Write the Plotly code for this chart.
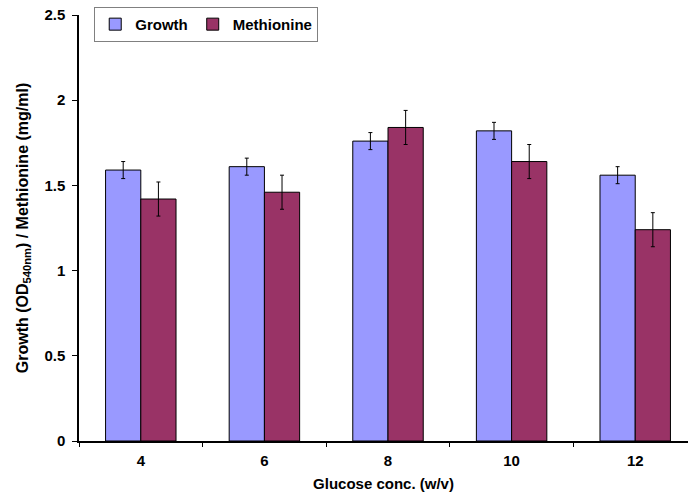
import plotly.graph_objects as go

categories = ["4", "6", "8", "10", "12"]
growth = [1.59, 1.61, 1.76, 1.82, 1.56]
growth_err = [0.05, 0.05, 0.05, 0.05, 0.05]
methionine = [1.42, 1.46, 1.84, 1.64, 1.24]
methionine_err = [0.10, 0.10, 0.10, 0.10, 0.10]

FONT = "Liberation Sans, Arial, sans-serif"

fig = go.Figure()
fig.add_trace(go.Bar(
    name="Growth", x=categories, y=growth,
    marker=dict(color="#9999FF", line=dict(color="black", width=1)),
    error_y=dict(type="data", array=growth_err, color="black", thickness=1, width=2),
))
fig.add_trace(go.Bar(
    name="Methionine", x=categories, y=methionine,
    marker=dict(color="#993366", line=dict(color="black", width=1)),
    error_y=dict(type="data", array=methionine_err, color="black", thickness=1, width=2),
))

fig.update_layout(
    width=688, height=500,
    margin=dict(l=79, r=0, t=15, b=59),
    paper_bgcolor="white", plot_bgcolor="white",
    barmode="group", bargap=0.43, bargroupgap=0,
    font=dict(family=FONT, size=14, color="black"),
    legend=dict(
        orientation="h", x=0.025, y=1.019, xanchor="left", yanchor="top",
        bgcolor="white", bordercolor="#808080", borderwidth=1,
        font=dict(family=FONT, size=15, color="black", weight="bold"),
        itemwidth=30,
    ),
    xaxis=dict(
        range=[-0.5, 4.427],
        showline=True, linecolor="black", linewidth=1.5,
        ticks="outside", tickson="boundaries", ticklen=4, tickcolor="black",
        tickfont=dict(family=FONT, size=15, weight="bold"),
        ticklabelstandoff=5,
        title=dict(text="Glucose conc. (w/v)", font=dict(family=FONT, size=15, weight="bold"), standoff=11),
        showgrid=False, zeroline=False,
    ),
    yaxis=dict(
        range=[0, 2.5], tickvals=[0, 0.5, 1, 1.5, 2, 2.5],
        ticktext=["0", "0.5", "1", "1.5", "2", "2.5"],
        showline=True, linecolor="black", linewidth=1.5,
        ticks="outside", ticklen=5, tickcolor="black",
        tickfont=dict(family=FONT, size=15, weight="bold"),
        ticklabelstandoff=4,
        title=dict(text="Growth (OD<sub>540nm</sub>) / Methionine (mg/ml)",
                   font=dict(family=FONT, size=16, weight="bold"), standoff=12),
        showgrid=False, zeroline=False,
    ),
)

fig.write_html("out.html")
